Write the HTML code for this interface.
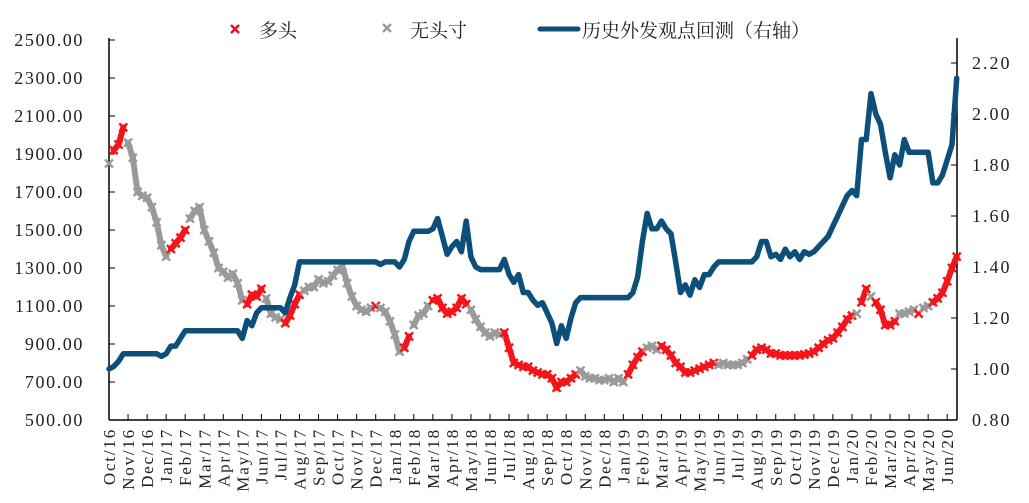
<!DOCTYPE html>
<html><head><meta charset="utf-8"><style>
html,body{margin:0;padding:0;background:#fff;}
svg{display:block;font-family:"Liberation Serif","Noto Serif CJK SC",serif;}
</style></head><body>
<svg id="chart" width="1029" height="503" viewBox="0 0 1029 503" xmlns="http://www.w3.org/2000/svg">
<rect width="1029" height="503" fill="#fff"/>
<g id="legend">
 <g>
  <path d="M231 25 L239 33 M239 25 L231 33" stroke="#e8131e" stroke-width="2.5"/>
  <text x="259" y="37" font-size="19" font-family="Noto Serif CJK SC, serif" fill="#222">多头</text>
 </g>
 <g>
  <path d="M383 24 L391 32 M391 24 L383 32" stroke="#999" stroke-width="2.5"/>
  <text x="410" y="37" font-size="19" font-family="Noto Serif CJK SC, serif" fill="#222">无头寸</text>
 </g>
 <g>
  <line x1="540" y1="29" x2="578" y2="29" stroke="#0b4f7a" stroke-width="5" stroke-linecap="round"/>
  <text x="582" y="37" font-size="19" font-family="Noto Serif CJK SC, serif" fill="#222">历史外发观点回测（右轴）</text>
 </g>
</g>
<g id="axes"></g>
<g id="price-series"></g>
<g id="backtest-series"></g>
</svg>
<script>
const monthLabels = ["Oct/16","Nov/16","Dec/16","Jan/17","Feb/17","Mar/17","Apr/17","May/17","Jun/17","Jul/17","Aug/17","Sep/17","Oct/17","Nov/17","Dec/17","Jan/18","Feb/18","Mar/18","Apr/18","May/18","Jun/18","Jul/18","Aug/18","Sep/18","Oct/18","Nov/18","Dec/18","Jan/19","Feb/19","Mar/19","Apr/19","May/19","Jun/19","Jul/19","Aug/19","Sep/19","Oct/19","Nov/19","Dec/19","Jan/20","Feb/20","Mar/20","Apr/20","May/20","Jun/20"];
const leftTicks = [500,700,900,1100,1300,1500,1700,1900,2100,2300,2500];
const rightTicks = [0.8,1.0,1.2,1.4,1.6,1.8,2.0,2.2];
const priceValues = [
1850,1920,1950,2040, 1960,1880,1700,1680, 1670,1620,1540,1420,
1360,1400,1430,1460, 1500,1560,1600,1620, 1500,1440,1380,1300, 1280,1250,1270,1220,
1130,1110,1160,1150, 1190,1140,1060,1040, 1030,1010,1050,1110, 1160,1180,1200,1200,
1240,1220,1230,1260, 1290,1310,1220,1150, 1100,1080,1070,1090, 1100,1090,1070,1020,
950,860,880,940, 1000,1050,1060,1100, 1130,1140,1090,1060, 1070,1090,1140,1110,
1080,1030,990,960, 940,960,950,960, 880,800,790,780, 780,760,750,740,
740,720,670,700, 700,720,740,760, 730,720,720,710, 710,720,700,720,
700,740,790,830, 860,880,890,870, 890,870,840,800, 780,750,750,760,
770,780,790,800, 790,800,790,790, 790,800,820,840, 870,880,870,850,
850,840,840,840, 840,840,845,850, 860,880,900,920, 930,960,990,1030,
1050,1060,1120,1190, 1150,1120,1080,1000, 1000,1020,1060,1060, 1070,1080,1060,1090,
1100,1120,1140,1170, 1230,1300,1360];
const priceStates = (
"grrr"+"gggg"+"gggg"+
"grrr"+"rggg"+"gggg"+"gggg"+
"grrr"+"rggg"+"grrr"+"rggg"+
"gggg"+"gggg"+"gggg"+"rggg"+
"ggrr"+"gggg"+"rrrr"+"rrrr"+
"gggg"+"gggr"+"rrrr"+"rrrr"+
"rrrr"+"rrrg"+"gggg"+"gggg"+
"grrr"+"rggg"+"rrrr"+"rrrr"+
"rrrr"+"gggg"+"gggr"+"rrrr"+
"rrrr"+"rrrr"+"rrrr"+"rrrr"+
"rgrr"+"grrr"+"rrgg"+"ggrg"+
"grrr"+"rrr").split("");
const backtestValues = [
1.00,1.01,1.03,1.06, 1.06,1.06,1.06,1.06, 1.06,1.06,1.06,1.05,
1.06,1.09,1.09,1.12, 1.15,1.15,1.15,1.15, 1.15,1.15,1.15,1.15, 1.15,1.15,1.15,1.15,
1.12,1.19,1.17,1.22, 1.24,1.24,1.24,1.24, 1.24,1.22,1.28,1.33, 1.42,1.42,1.42,1.42,
1.42,1.42,1.42,1.42, 1.42,1.42,1.42,1.42, 1.42,1.42,1.42,1.42, 1.42,1.41,1.42,1.42,
1.42,1.40,1.43,1.50, 1.54,1.54,1.54,1.54, 1.55,1.59,1.52,1.45, 1.48,1.50,1.46,1.58,
1.44,1.40,1.39,1.39, 1.39,1.39,1.39,1.43, 1.37,1.34,1.37,1.30, 1.30,1.27,1.25,1.26,
1.22,1.18,1.10,1.17, 1.12,1.20,1.26,1.28, 1.28,1.28,1.28,1.28, 1.28,1.28,1.28,1.28,
1.28,1.28,1.30,1.36, 1.50,1.61,1.55,1.55, 1.58,1.55,1.53,1.42, 1.30,1.33,1.29,1.35,
1.32,1.37,1.37,1.40, 1.42,1.42,1.42,1.42, 1.42,1.42,1.42,1.42, 1.44,1.50,1.50,1.44,
1.45,1.43,1.47,1.44, 1.46,1.43,1.46,1.45, 1.46,1.48,1.50,1.52, 1.56,1.60,1.64,1.68,
1.70,1.68,1.90,1.90, 2.08,2.00,1.96,1.85, 1.75,1.84,1.80,1.90, 1.85,1.85,1.85,1.85,
1.85,1.73,1.73,1.76, 1.82,1.88,2.14];

const NS = "http://www.w3.org/2000/svg";
const X0 = 109, X1 = 957, YB = 420, MONTH = 19.05, STEP = 0.25;
function xScale(t){ return X0 + t*MONTH; }
function yLeft(v){ return YB - (v-500)*0.19; }
function yRight(r){ return YB - (r-0.8)*255; }
function mk(tag, attrs, parent){
  const e = document.createElementNS(NS, tag);
  for (const k in attrs) e.setAttribute(k, attrs[k]);
  parent.appendChild(e); return e;
}
const axes = document.getElementById('axes');
let e;
e = mk('line',{x1:X0,y1:38,x2:X0,y2:YB,stroke:'#000','stroke-width':1.5},axes);
 
e = mk('line',{x1:X1,y1:38,x2:X1,y2:YB,stroke:'#000','stroke-width':1.5},axes);
 
e = mk('line',{x1:X0,y1:YB,x2:X1,y2:YB,stroke:'#000','stroke-width':1.5},axes);
 
leftTicks.forEach(v=>{
  const y = yLeft(v);
  mk('line',{x1:X0,y1:y,x2:X0+6,y2:y,stroke:'#000','stroke-width':1},axes);
  const t = mk('text',{x:84,y:y+6,'text-anchor':'end','font-size':18,'letter-spacing':1.6,fill:'#222'},axes);
  t.textContent = v.toFixed(2);
  
  
});
rightTicks.forEach(v=>{
  const y = yRight(v);
  mk('line',{x1:X1-6,y1:y,x2:X1,y2:y,stroke:'#000','stroke-width':1},axes);
  const t = mk('text',{x:972,y:y+6,'font-size':18,'letter-spacing':2,fill:'#222'},axes);
  t.textContent = v.toFixed(2);
  
  
});
monthLabels.forEach((m,i)=>{
  const x = xScale(i);
  if (i>0) mk('line',{x1:x,y1:YB,x2:x,y2:YB-6,stroke:'#000','stroke-width':1},axes);
  const t = mk('text',{x:0,y:0,'text-anchor':'end','font-size':17,'letter-spacing':1.8,fill:'#222',transform:`translate(${x+6},428) rotate(-90)`},axes);
  t.textContent = m;
  
  
});
const pg = document.getElementById('price-series');


const col = s => s==='r' ? '#f5141a' : '#9a9a9a';
for (let i=1;i<priceValues.length;i++){
  if (priceStates[i]!==priceStates[i-1]) continue;
  const s = mk('line',{x1:xScale((i-1)*STEP),y1:yLeft(priceValues[i-1]),x2:xScale(i*STEP),y2:yLeft(priceValues[i]),stroke:col(priceStates[i]),'stroke-width':6,'stroke-linecap':'round'},pg);
  
  
}
priceValues.forEach((v,i)=>{
  const x = xScale(i*STEP), y = yLeft(v);
  const p = mk('path',{d:`M${x-4} ${y-4} L${x+4} ${y+4} M${x+4} ${y-4} L${x-4} ${y+4}`,stroke:col(priceStates[i]),'stroke-width':2.5},pg);
  
  
});
const bg = document.getElementById('backtest-series');
const pts = backtestValues.map((r,i)=>xScale(i*STEP).toFixed(1)+','+yRight(r).toFixed(1)).join(' ');
const pl = mk('polyline',{points:pts,fill:'none',stroke:'#0b4f7a','stroke-width':5.5,'stroke-linejoin':'round','stroke-linecap':'round'},bg);


</script>
</body></html>
